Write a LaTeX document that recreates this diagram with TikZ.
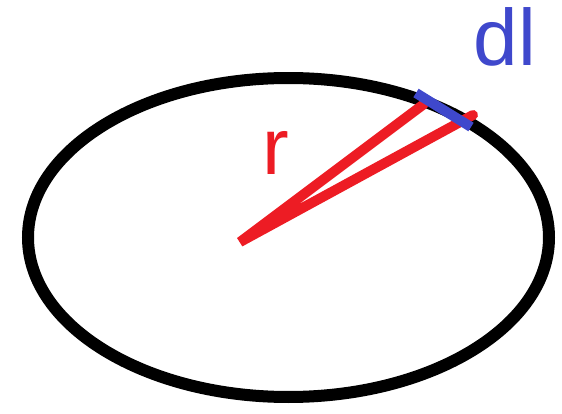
\documentclass[tikz,border=0pt]{standalone}
\usepackage{fontspec}
\setmainfont{Liberation Sans}
\usetikzlibrary{calc}
\definecolor{PaintRed}{RGB}{237,28,36}
\definecolor{PaintBlue}{RGB}{63,72,204}

\begin{document}
\begin{tikzpicture}[x=0.75pt,y=-0.75pt,line cap=round]
\useasboundingbox (0,0) rectangle (562,414);
\draw[line width=9pt] (288.5,237.5) ellipse [x radius=260.5,y radius=159.5];
\coordinate (o) at (240,242);\coordinate (p1) at (424,104);\coordinate (p2) at (473,115);
\draw[PaintRed,line width=7.5pt] (p1)--(o)--(p2);
\draw[PaintBlue,line width=7.5pt,line cap=butt] (416,93)--(471,127);
\node[PaintRed,inner sep=0,anchor=base,font=\fontsize{60}{60}\selectfont] (r) at (276,174){r};
\node[PaintBlue,inner sep=0,anchor=base,font=\fontsize{60}{60}\selectfont] (dl) at (505,65){dl};
\end{tikzpicture}
\end{document}
